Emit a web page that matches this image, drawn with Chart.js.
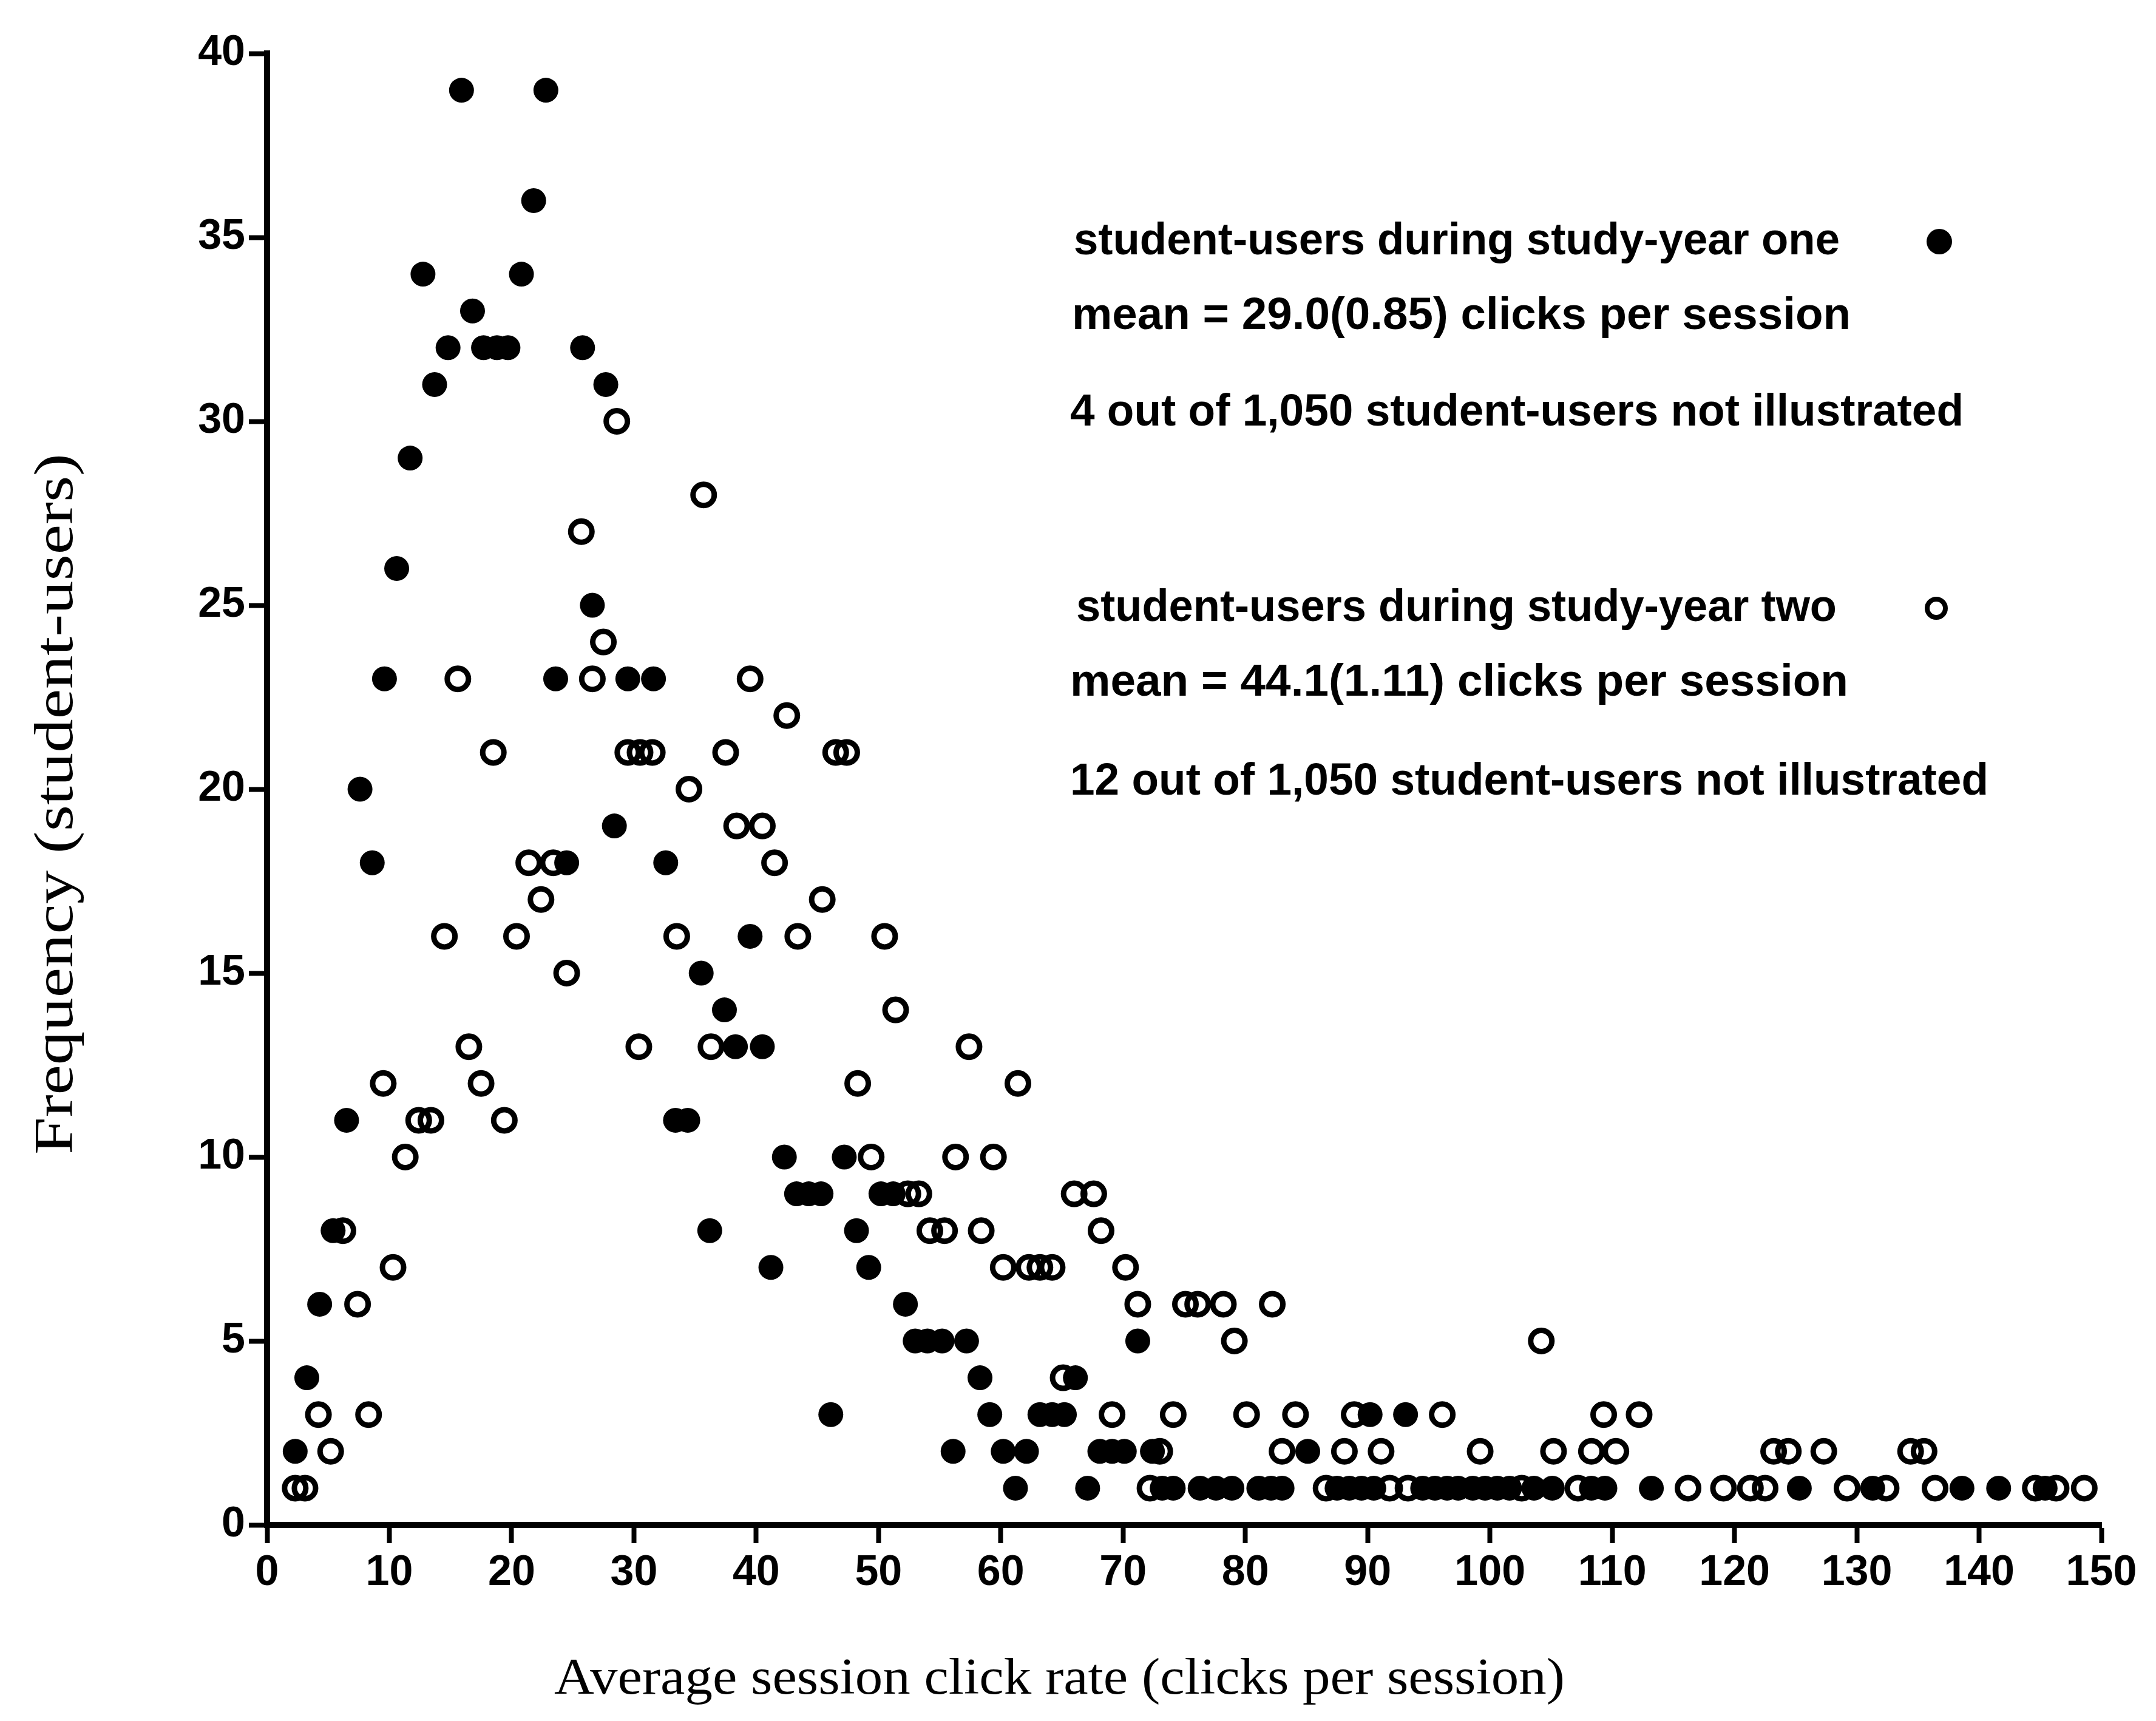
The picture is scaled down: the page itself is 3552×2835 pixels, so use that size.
<!DOCTYPE html>
<html>
<head>
<meta charset="utf-8">
<script src="https://cdn.jsdelivr.net/npm/chart.js@4.4.1/dist/chart.umd.min.js"></script>
<style>
  html, body { margin: 0; padding: 0; background: #fff; }
  #cadre { width: 3552px; height: 2835px; }
</style>
</head>
<body>
<div id="cadre"><canvas id="clicsGraphique" width="3552" height="2835"></canvas></div>
<script>
// Données : taux de clics moyen (x) et fréquence (y)
var anneeUnX = [2.3, 3.25, 4.3, 5.4, 6.5, 7.6, 8.6, 9.6, 10.6, 11.7, 12.75, 13.7, 14.8, 15.9, 16.8, 17.7, 18.8, 19.7, 20.8, 21.8,
  22.8, 23.6, 24.5, 25.8, 26.6, 27.7, 28.4, 29.5, 31.6, 32.6, 33.4, 34.4, 35.5, 36.2, 37.4, 38.3, 39.5, 40.5, 41.2, 42.3,
  43.3, 44.3, 45.3, 46.1, 47.2, 48.2, 49.2, 50.2, 51.2, 52.2, 53.0, 54.0, 55.2, 56.1, 57.2, 58.3, 59.1, 60.2, 61.2, 62.1,
  63.2, 64.2, 65.2, 66.1, 67.1, 68.1, 69.1, 70.1, 71.2, 72.4, 73.2, 74.1, 76.3, 77.6, 78.9, 81.1, 82.1, 83.0, 85.1, 87.5,
  88.5, 89.5, 90.2, 90.5, 93.1, 94.5, 95.5, 96.5, 97.4, 98.6, 99.6, 100.6, 101.6, 103.6, 105.1, 108.3, 109.4, 113.2, 125.3, 131.3,
  138.6, 141.6, 145.4];
var anneeUnY = [2, 4, 6, 8, 11, 20, 18, 23, 26, 29, 34, 31, 32, 39, 33, 32, 32, 32, 34, 36,
  39, 23, 18, 32, 25, 31, 19, 23, 23, 18, 11, 11, 15, 8, 14, 13, 16, 13, 7, 10,
  9, 9, 9, 3, 10, 8, 7, 9, 9, 6, 5, 5, 5, 2, 5, 4, 3, 2, 1, 2,
  3, 3, 3, 4, 1, 2, 2, 2, 5, 2, 1, 1, 1, 1, 1, 1, 1, 1, 2, 1,
  1, 1, 3, 1, 3, 1, 1, 1, 1, 1, 1, 1, 1, 1, 1, 1, 1, 1, 1, 1,
  1, 1, 1];

var anneeDeuxX = [2.3, 3.1, 4.2, 5.2, 6.2, 7.4, 8.3, 9.5, 10.3, 11.3, 12.4, 13.4, 14.5, 15.6, 16.5, 17.5, 18.5, 19.4, 20.4, 21.4,
  22.4, 23.4, 24.5, 25.7, 26.6, 27.5, 28.6, 29.5, 30.4, 30.5, 31.5, 33.5, 34.5, 35.7, 36.3, 37.5, 38.4, 39.5, 40.5, 41.5,
  42.5, 43.4, 45.4, 46.5, 47.4, 48.3, 49.4, 50.5, 51.4, 52.4, 53.3, 54.2, 55.4, 56.3, 57.4, 58.4, 59.4, 60.2, 61.4, 62.3,
  63.2, 64.2, 65.1, 66.0, 67.6, 68.2, 69.1, 70.2, 71.2, 72.2, 73.0, 74.1, 75.1, 76.1, 78.2, 79.1, 80.1, 82.2, 83.0, 84.1,
  86.6, 88.1, 88.9, 91.1, 91.8, 93.3, 96.1, 99.2, 102.6, 104.2, 105.2, 107.2, 108.3, 109.3, 110.3, 112.2, 116.2, 119.1, 121.3, 122.5,
  123.2, 124.4, 127.3, 129.2, 132.4, 134.4, 135.5, 136.4, 144.6, 146.3, 148.6];
var anneeDeuxY = [1, 1, 3, 2, 8, 6, 3, 12, 7, 10, 11, 11, 16, 23, 13, 12, 21, 11, 16, 18,
  17, 18, 15, 27, 23, 24, 30, 21, 13, 21, 21, 16, 20, 28, 13, 21, 19, 23, 19, 18,
  22, 16, 17, 21, 21, 12, 10, 16, 14, 9, 9, 8, 8, 10, 13, 8, 10, 7, 12, 7,
  7, 7, 4, 9, 9, 8, 3, 7, 6, 1, 2, 3, 6, 6, 6, 5, 3, 6, 2, 3,
  1, 2, 3, 2, 1, 1, 3, 2, 1, 5, 2, 1, 2, 3, 2, 3, 1, 1, 1, 1,
  2, 2, 2, 1, 1, 2, 2, 1, 1, 1, 1];

// Graduations des axes
var graduationsX = [0, 10, 20, 30, 40, 50, 60, 70, 80, 90, 100, 110, 120, 130, 140, 150];
var graduationsY = [0, 5, 10, 15, 20, 25, 30, 35, 40];

// Textes de la légende et des axes
var texteLegende = [
  'student-users during study-year one',
  'mean = 29.0(0.85) clicks per session',
  '4 out of 1,050 student-users not illustrated',
  'student-users during study-year two',
  'mean = 44.1(1.11) clicks per session',
  '12 out of 1,050 student-users not illustrated'
];
var titreX = 'Average session click rate (clicks per session)';
var titreY = 'Frequency (student-users)';

function points(xs, ys) {
  return xs.map(function(x, i) { return { x: x, y: ys[i] }; });
}

var policeSans = "'Liberation Sans Narrow', 'Liberation Sans', Arial, sans-serif";
var policeSerif = "'Liberation Serif', 'Times New Roman', serif";

// Placement du bloc de légende (pixels de la toile)
var placeLegende = [
  { x: 1769, y: 419, w: 1262 },
  { x: 1766, y: 542, w: 1283 },
  { x: 1763, y: 701, w: 1472 },
  { x: 1773, y: 1023, w: 1253 },
  { x: 1763, y: 1146, w: 1282 },
  { x: 1763, y: 1309, w: 1513 }
];

function texteAjuste(ctx, txt, x, y, largeur) {
  var w = ctx.measureText(txt).width;
  ctx.save();
  ctx.translate(x, y);
  ctx.scale(largeur / w, 1);
  ctx.fillText(txt, 0, 0);
  ctx.restore();
}

var legendePlugin = {
  id: 'legende',
  beforeDraw: function(chart) {
    var ctx = chart.ctx;
    ctx.save();
    ctx.fillStyle = '#fff';
    ctx.fillRect(0, 0, chart.width, chart.height);
    ctx.restore();
  },
  afterDraw: function(chart) {
    var ctx = chart.ctx;
    ctx.save();
    ctx.fillStyle = '#000';
    ctx.textBaseline = 'alphabetic';
    ctx.textAlign = 'left';
    ctx.font = 'bold 74px ' + policeSans;
    texteLegende.forEach(function(t, i) {
      var p = placeLegende[i];
      texteAjuste(ctx, t, p.x, p.y, p.w);
    });

    // symboles de la légende
    ctx.beginPath();
    ctx.arc(3195, 398, 21, 0, Math.PI * 2);
    ctx.fill();
    ctx.beginPath();
    ctx.lineWidth = 8;
    ctx.strokeStyle = '#000';
    ctx.arc(3190, 1002, 15, 0, Math.PI * 2);
    ctx.stroke();

    // titres des axes
    ctx.font = '84px ' + policeSerif;
    ctx.textBaseline = 'middle';
    texteAjuste(ctx, titreX, 913, 2768, 1665);
    ctx.save();
    ctx.translate(95, 1325);
    ctx.rotate(-Math.PI / 2);
    ctx.font = '90px ' + policeSerif;
    texteAjuste(ctx, titreY, -577, 0, 1155);
    ctx.restore();
    ctx.restore();
  }
};

var ctx = document.getElementById('clicsGraphique').getContext('2d');

var clicsChart = new Chart(ctx, {
  type: 'scatter',
  data: {
    datasets: [
      {
        label: 'student-users during study-year one',
        data: points(anneeUnX, anneeUnY),
        backgroundColor: '#000',
        borderColor: '#000',
        borderWidth: 0,
        pointRadius: 20.5,
        pointHoverRadius: 20.5
      },
      {
        label: 'student-users during study-year two',
        data: points(anneeDeuxX, anneeDeuxY),
        backgroundColor: 'rgba(0,0,0,0)',
        borderColor: '#000',
        borderWidth: 9,
        pointRadius: 17.5,
        pointHoverRadius: 17.5
      }
    ]
  },
  options: {
    responsive: false,
    animation: false,
    events: [],
    clip: false,
    layout: { padding: { top: 88, right: 90, bottom: 0, left: 0 } },
    plugins: {
      legend: { display: false },
      tooltip: { enabled: false }
    },
    scales: {
      x: {
        type: 'linear',
        min: 0,
        max: 150,
        afterFit: function(s) { s.height = 2835 - 2512; },
        afterBuildTicks: function(s) { s.ticks = graduationsX.map(function(v) { return { value: v }; }); },
        border: { display: true, color: '#000', width: 10 },
        grid: { drawOnChartArea: false, drawTicks: true, tickLength: 30, tickWidth: 8, tickColor: '#000' },
        ticks: {
          color: '#000',
          padding: 8,
          maxRotation: 0,
          font: { family: policeSans, size: 70, weight: 'bold' }
        }
      },
      y: {
        type: 'linear',
        min: 0,
        max: 40,
        afterFit: function(s) { s.width = 440; },
        afterBuildTicks: function(s) { s.ticks = graduationsY.map(function(v) { return { value: v }; }); },
        border: { display: true, color: '#000', width: 10 },
        grid: { drawOnChartArea: false, drawTicks: true, tickLength: 30, tickWidth: 8, tickColor: '#000' },
        ticks: {
          color: '#000',
          padding: 6,
          font: { family: policeSans, size: 70, weight: 'bold' }
        }
      }
    }
  },
  plugins: [legendePlugin]
});
</script>
</body>
</html>
